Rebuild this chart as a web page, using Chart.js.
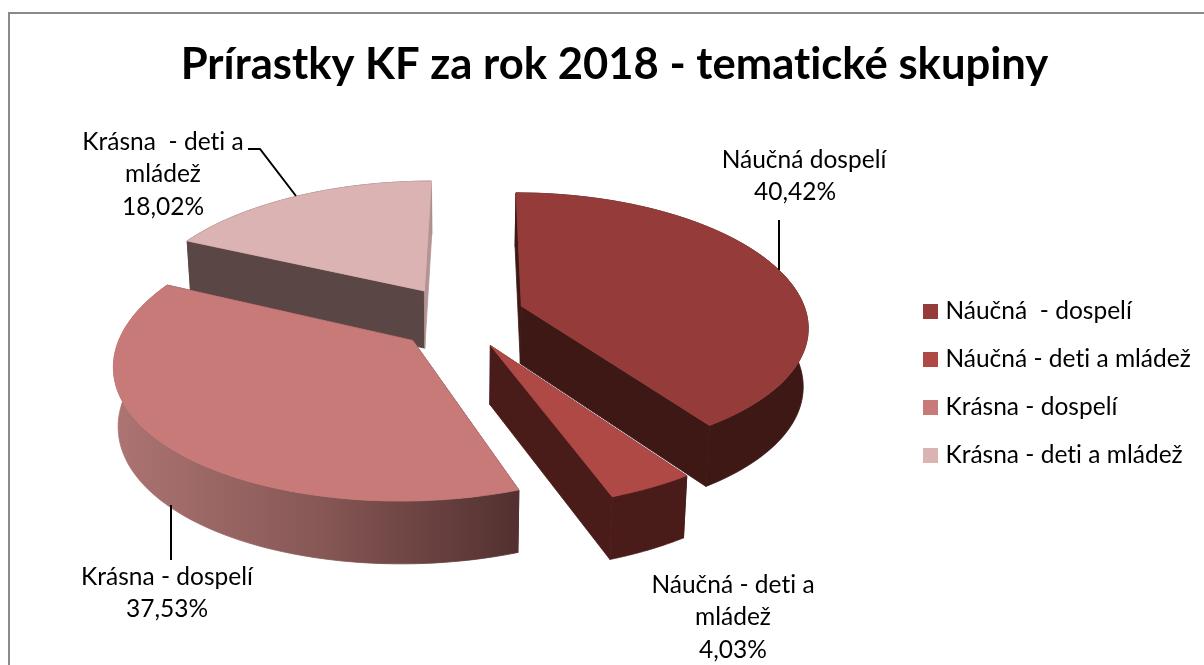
<!DOCTYPE html>
<html>
<head>
<meta charset="utf-8">
<title>Prírastky KF za rok 2018</title>
<script src="https://cdn.jsdelivr.net/npm/chart.js@4"></script>
<style>
  html, body { margin: 0; background: #fff; overflow: hidden; width: 1204px; height: 665px; }
  #wrap { position: absolute; left: 8px; top: 12px; border: 2px solid #8a8a8a; width: 1210px; height: 750px; }
</style>
</head>
<body>
<div id="wrap"><canvas id="pie" width="1210" height="750"></canvas></div>
<script>
const chartTitle = "Prírastky KF za rok 2018 - tematické skupiny";
const categories = ["Náučná  - dospelí", "Náučná - deti a mládež", "Krásna - dospelí", "Krásna - deti a mládež"];
const shares = [40.42, 4.03, 37.53, 18.02];
const sliceColors = ["#953c3b", "#ae4945", "#c77a78", "#dcb3b3"];
const wallColors = ["#3e1815", "#4a1c19", "#8a5a58", "#5a4644"];
const labelNames = [["Náučná dospelí"], ["Náučná - deti a", "mládež"], ["Krásna - dospelí"], ["Krásna  - deti a", "mládež"]];

// pie plane -> canvas (page position minus the 10/14 of the frame)
const PIE_X = 447.5, PIE_Y = 301, VANISH_X = 470, FOOT_X = 440;
const RX = 290, RY = 131, DEPTH = 58;
const explodeX = [0.232, 0.245, 0.2, 0.223];
const explodeY = [0.232, 0.254, 0.28, 0.223];
const radiusX = [0.985, 1, 0.985, 1];

function project(u, v, down) {
  const sx = 1 / (1 - 0.15 * v);
  const sy = 1 / (1 - 0.137 * v);
  const x = VANISH_X + (PIE_X + RX * u - VANISH_X) * sx;
  return {
    x: FOOT_X + (x - FOOT_X) * (1 - down * 0.014),
    y: PIE_Y + RY * v * sy + down * DEPTH * (1 + 0.07 * v)
  };
}

function fillPoly(ctx, pts, fill) {
  ctx.beginPath();
  pts.forEach((p, i) => i ? ctx.lineTo(p.x, p.y) : ctx.moveTo(p.x, p.y));
  ctx.closePath();
  ctx.fillStyle = fill;
  ctx.fill();
  ctx.strokeStyle = fill;
  ctx.lineWidth = 0.8;
  ctx.stroke();
}

function drawSlice(ctx, arc, i) {
  const mid = (arc.startAngle + arc.endAngle) / 2;
  const ox = Math.cos(mid) * explodeX[i], oy = Math.sin(mid) * explodeY[i];
  const top = [], bottom = [];
  const steps = 90;
  for (let k = 0; k <= steps; k++) {
    const a = arc.startAngle + (arc.endAngle - arc.startAngle) * k / steps;
    const u = ox + Math.cos(a) * radiusX[i], v = oy + Math.sin(a);
    top.push(project(u, v, 0));
    bottom.push(project(u, v, 1));
  }
  const apexTop = project(ox, oy, 0), apexBottom = project(ox, oy, 1);

  let rim = wallColors[i], side = wallColors[i];
  if (i === 2) {
    // the big front slice fades from rose to almost brown along its rim
    const g = ctx.createLinearGradient(106, 0, top[0].x, 0);
    g.addColorStop(0, "#ac7472");
    g.addColorStop(0.5, "#875856");
    g.addColorStop(1, "#52302f");
    rim = g;
    side = "#52302f";
  }
  const rimPts = top.concat(bottom.slice().reverse());
  // the back slice only shows its rim behind the side walls
  if (i === 3) fillPoly(ctx, rimPts, rim);
  fillPoly(ctx, [apexTop, top[0], bottom[0], apexBottom], side);
  fillPoly(ctx, [apexTop, top[steps], bottom[steps], apexBottom], i === 3 ? "#b29494" : side);
  if (i !== 3) fillPoly(ctx, rimPts, rim);
  fillPoly(ctx, [apexTop].concat(top), sliceColors[i]);
}

function drawLabel(ctx, lines, cx, firstY) {
  ctx.font = "24.5px Lato";
  ctx.fillStyle = "#000";
  ctx.textAlign = "center";
  ctx.textBaseline = "middle";
  lines.forEach((t, j) => ctx.fillText(t, cx, firstY + j * 32.5));
}

function leader(ctx, pts) {
  ctx.beginPath();
  pts.forEach((p, i) => i ? ctx.lineTo(p[0], p[1]) : ctx.moveTo(p[0], p[1]));
  ctx.strokeStyle = "#000";
  ctx.lineWidth = 2;
  ctx.stroke();
}

const pct = v => v.toFixed(2).replace(".", ",") + "%";

// legend squares as little canvases, so they can sit closer to the text than the default gap
function legendMarker(color) {
  const c = document.createElement("canvas");
  c.width = 15;
  c.height = 15;
  const g = c.getContext("2d");
  g.fillStyle = color;
  g.fillRect(0, 0, 15, 15);
  return c;
}

const pie3d = {
  id: "pie3d",
  beforeDraw(chart) {
    // Lato has a "ti" ligature the reference text does not show
    chart.ctx.letterSpacing = "0.01px";
  },
  beforeDatasetDraw(chart) {
    const ctx = chart.ctx;
    const arcs = chart.getDatasetMeta(0).data;
    ctx.save();
    [3, 0, 1, 2].forEach(i => drawSlice(ctx, arcs[i], i));

    leader(ctx, [[769, 256], [769, 206]]);
    leader(ctx, [[161, 491], [161, 546]]);
    leader(ctx, [[286, 182], [250, 135], [238, 135]]);

    drawLabel(ctx, labelNames[0], 794, 146);
    drawLabel(ctx, [pct(shares[0])], 785, 178);
    drawLabel(ctx, labelNames[1].concat(pct(shares[1])), 723, 571);
    drawLabel(ctx, labelNames[2].concat(pct(shares[2])), 157, 563);
    drawLabel(ctx, labelNames[3].concat(pct(shares[3])), 153, 128);
    ctx.restore();
    return false;
  }
};

new Chart(document.getElementById("pie"), {
  type: "pie",
  data: {
    labels: categories,
    datasets: [{ data: shares, backgroundColor: sliceColors, borderWidth: 0 }]
  },
  plugins: [pie3d],
  options: {
    responsive: false,
    animation: false,
    layout: { padding: { left: 18, right: 19, bottom: 12 } },
    plugins: {
      tooltip: { enabled: false },
      title: {
        display: true,
        text: chartTitle,
        color: "#000",
        font: { family: "Lato", size: 43.6, weight: "bold" },
        padding: { top: 25, bottom: 20 }
      },
      legend: {
        position: "right",
        onClick: null,
        labels: {
          color: "#000",
          font: { family: "Lato", size: 24.5 },
          usePointStyle: true,
          pointStyleWidth: 5,
          boxHeight: 15,
          padding: 23.5,
          generateLabels: () => categories.map((text, i) => ({
            text,
            index: i,
            hidden: false,
            pointStyle: legendMarker(sliceColors[i]),
            fillStyle: sliceColors[i],
            strokeStyle: sliceColors[i],
            lineWidth: 0
          }))
        }
      }
    }
  }
});
</script>
</body>
</html>
